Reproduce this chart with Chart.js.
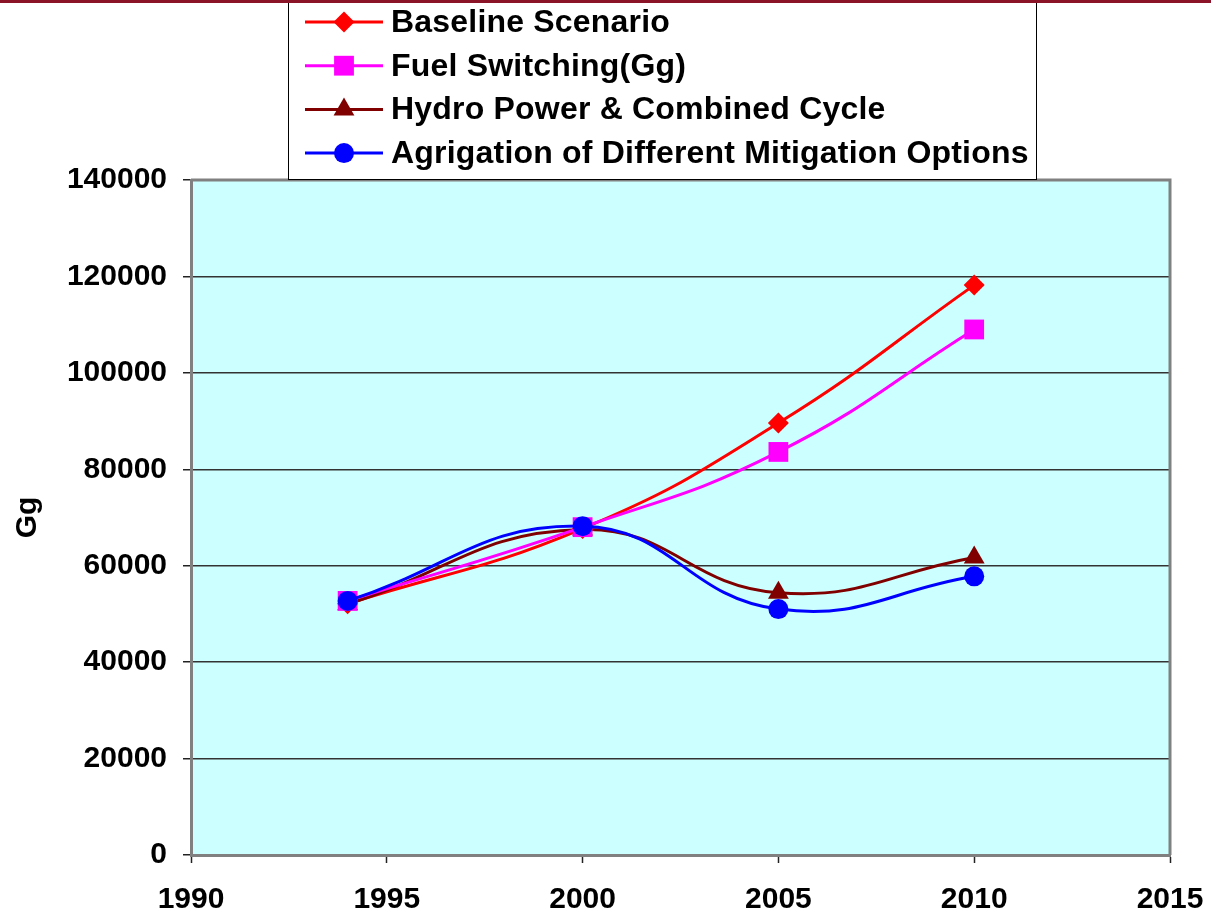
<!DOCTYPE html>
<html lang="en">
<head>
    <meta charset="UTF-8">
    <title>Emission Mitigation Scenarios (Gg)</title>
    <script src="https://cdn.jsdelivr.net/npm/chart.js"></script>
    <style>
        html, body { margin: 0; padding: 0; background: #fff; }
        #wrap { position: relative; width: 1211px; height: 912px; }
        #topRule { position: absolute; left: 0; top: 0; width: 1211px; height: 3px; background: #8b1428; }
    </style>
</head>
<body>
    <div id="wrap">
        <canvas id="chart" width="1211" height="912"></canvas>
        <div id="topRule"></div>
    </div>

    <script>
        // data
        const years = [1994, 2000, 2005, 2010];
        const baseline = [52100, 67700, 89600, 118200];
        const fuelSwitching = [52700, 68000, 83600, 109000];
        const hydroCombined = [52000, 67500, 54400, 61700];
        const aggregation = [52700, 68200, 51000, 57800];

        const seriesLabels = [
            'Baseline Scenario',
            'Fuel Switching(Gg)',
            'Hydro Power & Combined Cycle',
            'Agrigation of Different Mitigation Options'
        ];
        const xTicks = [1990, 1995, 2000, 2005, 2010, 2015];
        const yTicks = [0, 20000, 40000, 60000, 80000, 100000, 120000, 140000];

        const FONT = '"Liberation Sans", Arial, sans-serif';

        function points(values) {
            return years.map((y, i) => ({ x: y, y: values[i] }));
        }

        function series(label, values, color, style, radius, order) {
            return {
                label: label,
                data: points(values),
                borderColor: color,
                backgroundColor: color,
                borderWidth: 3,
                pointStyle: style,
                pointRadius: radius,
                pointHoverRadius: radius,
                pointBorderWidth: 0,
                tension: 0.45,
                fill: false,
                order: order
            };
        }

        const datasets = [
            series(seriesLabels[0], baseline, '#ff0000', 'rectRot', 10.5, 3),
            series(seriesLabels[1], fuelSwitching, '#ff00ff', 'rect', 14, 1),
            series(seriesLabels[2], hydroCombined, '#800000', 'triangle', 12, 2),
            series(seriesLabels[3], aggregation, '#0000ff', 'circle', 10, 0)
        ];

        // cyan plot background and grey frame
        const plotBackground = {
            id: 'plotBackground',
            beforeDraw(chart) {
                const { ctx, chartArea: a } = chart;
                ctx.save();
                ctx.fillStyle = '#ccffff';
                ctx.fillRect(a.left, a.top, a.right - a.left, a.bottom - a.top);
                ctx.restore();
            },
            afterDatasetsDraw(chart) {
                const { ctx, chartArea: a } = chart;
                ctx.save();
                ctx.strokeStyle = '#808080';
                ctx.lineWidth = 3;
                ctx.beginPath();
                ctx.moveTo(a.left, a.top);
                ctx.lineTo(a.right, a.top);
                ctx.lineTo(a.right, a.bottom);
                ctx.stroke();
                ctx.restore();
            }
        };

        // boxed legend, one series per row
        const boxLegend = {
            id: 'boxLegend',
            afterDraw(chart) {
                const ctx = chart.ctx;
                const left = 288, top = 2, right = 1037, bottom = 180;
                ctx.save();
                ctx.fillStyle = '#fff';
                ctx.fillRect(left, top, right - left, bottom - top);
                ctx.strokeStyle = '#000';
                ctx.lineWidth = 1;
                ctx.strokeRect(left + 0.5, top + 0.5, right - left - 1, bottom - top - 1);

                chart.data.datasets.forEach((ds, i) => {
                    const y = 22 + i * 43.7;
                    ctx.strokeStyle = ds.borderColor;
                    ctx.lineWidth = 3;
                    ctx.beginPath();
                    ctx.moveTo(305, y);
                    ctx.lineTo(383, y);
                    ctx.stroke();
                    ctx.fillStyle = ds.backgroundColor;
                    Chart.helpers.drawPoint(ctx, {
                        pointStyle: ds.pointStyle,
                        radius: ds.pointRadius,
                        borderWidth: 0,
                        rotation: 0
                    }, 344, y);
                    ctx.fillStyle = '#000';
                    ctx.font = 'bold 32px ' + FONT;
                    ctx.letterSpacing = '0.2px';
                    ctx.textBaseline = 'middle';
                    ctx.textAlign = 'left';
                    ctx.fillText(ds.label, 391, y + 1);
                    ctx.letterSpacing = '0px';
                });
                ctx.restore();
            }
        };

        new Chart(document.getElementById('chart'), {
            type: 'line',
            data: { datasets: datasets },
            options: {
                responsive: false,
                animation: false,
                layout: { padding: { top: 180, right: 41, left: 0, bottom: 0 } },
                plugins: {
                    legend: { display: false },
                    tooltip: { enabled: false }
                },
                scales: {
                    x: {
                        type: 'linear',
                        min: xTicks[0],
                        max: xTicks[xTicks.length - 1],
                        afterBuildTicks(scale) { scale.ticks = xTicks.map(v => ({ value: v })); },
                        afterFit(scale) {
                            scale.height = 57;
                            scale.paddingLeft = 0;
                            scale.paddingRight = 0;
                        },
                        ticks: {
                            callback: v => String(v),
                            color: '#000',
                            font: { family: FONT, size: 30, weight: 'bold' },
                            padding: 19,
                            maxRotation: 0
                        },
                        grid: {
                            drawOnChartArea: false,
                            tickLength: 8,
                            tickColor: '#222',
                            tickWidth: 1.5
                        },
                        border: { color: '#808080', width: 3 }
                    },
                    y: {
                        min: yTicks[0],
                        max: yTicks[yTicks.length - 1],
                        afterBuildTicks(scale) { scale.ticks = yTicks.map(v => ({ value: v })); },
                        afterFit(scale) { scale.width = 191; },
                        ticks: {
                            callback: v => String(v),
                            color: '#000',
                            font: { family: FONT, size: 30, weight: 'bold' },
                            padding: 16
                        },
                        grid: {
                            color: '#333',
                            lineWidth: 1.5,
                            tickLength: 8,
                            tickColor: '#222',
                            tickWidth: 1.5
                        },
                        border: { color: '#808080', width: 3 },
                        title: {
                            display: true,
                            text: 'Gg',
                            color: '#000',
                            font: { family: FONT, size: 30, weight: 'bold' },
                            padding: { top: 10, bottom: 0 }
                        }
                    }
                }
            },
            plugins: [plotBackground, boxLegend]
        });
    </script>
</body>
</html>
